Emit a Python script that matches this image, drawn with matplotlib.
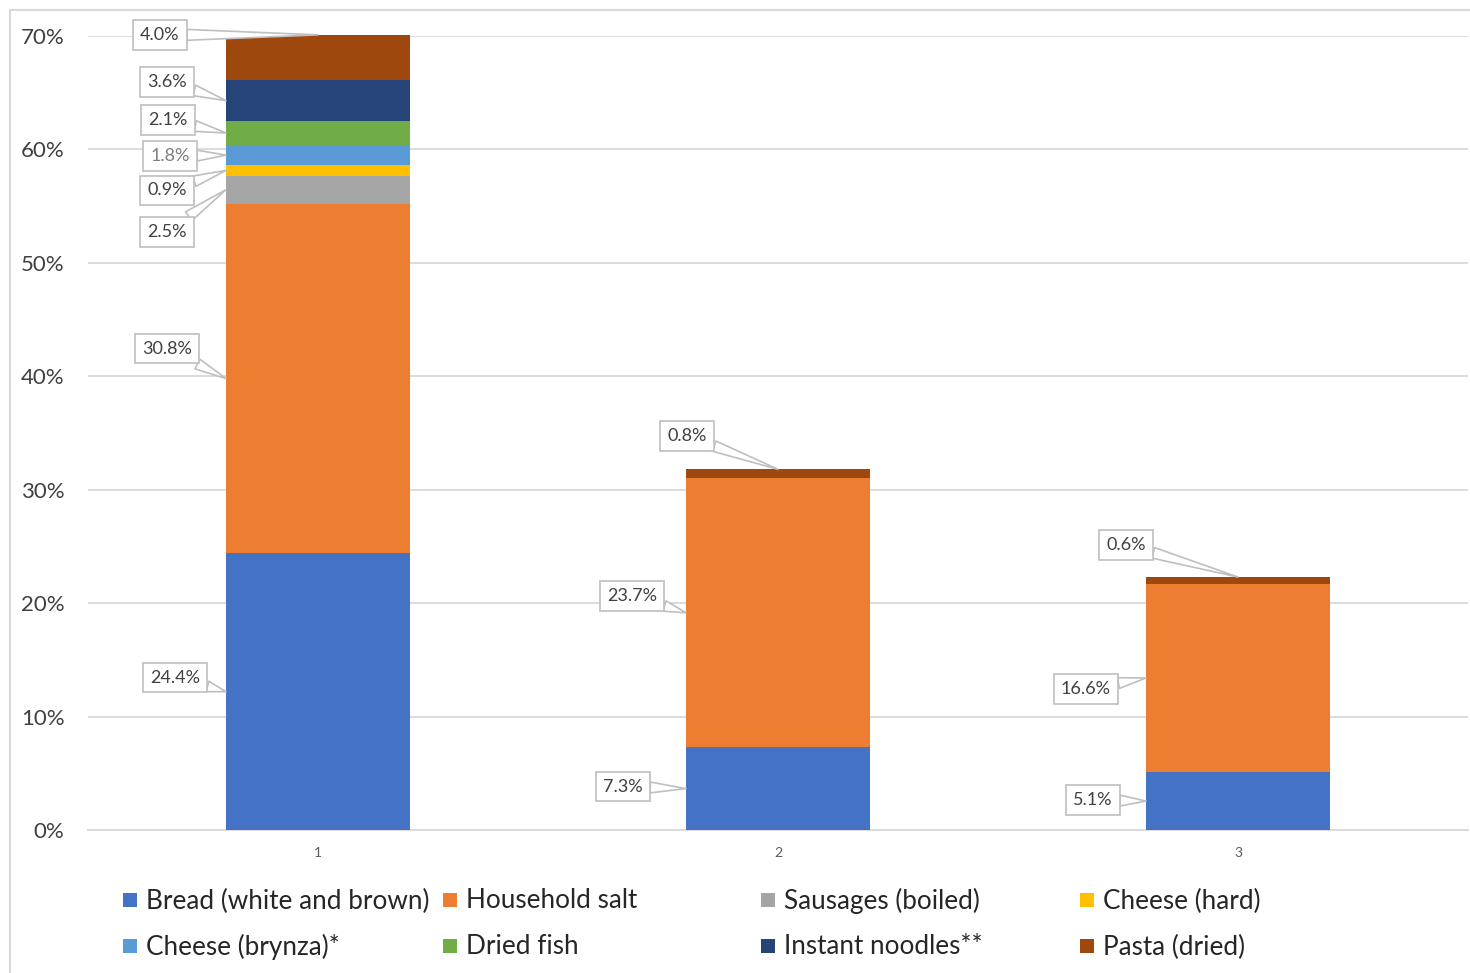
import matplotlib.pyplot as plt
from matplotlib.patches import Rectangle
from matplotlib.lines import Line2D
import numpy as np

plt.rcParams['font.family'] = ['Lato', 'DejaVu Sans']

groups = [1, 2, 3]
series = ["Bread (white and brown)", "Household salt", "Sausages (boiled)", "Cheese (hard)",
          "Cheese (brynza)*", "Dried fish", "Instant noodles**", "Pasta (dried)"]
colors = ["#4472C4", "#ED7D31", "#A5A5A5", "#FFC000",
          "#5B9BD5", "#70AD47", "#264478", "#9E480E"]

# shares in %, one list per series (groups 1..3)
bread    = [24.4, 7.3, 5.1]
salt     = [30.8, 23.7, 16.6]
sausages = [2.5, 0.0, 0.0]
cheese_h = [0.9, 0.0, 0.0]
brynza   = [1.8, 0.0, 0.0]
fish     = [2.1, 0.0, 0.0]
noodles  = [3.6, 0.0, 0.0]
pasta    = [4.0, 0.8, 0.6]
values = [bread, salt, sausages, cheese_h, brynza, fish, noodles, pasta]

# callout label placement: (series index, group, anchor, offset px)
callouts = [
    (7, 0, "top", (-158, 0)),
    (6, 0, "left", (-59, 19)),
    (5, 0, "left", (-58, 13)),
    (4, 0, "left", (-56, -1)),
    (3, 0, "left", (-59, -20)),
    (2, 0, "left", (-59, -42)),
    (1, 0, "left", (-59, 30)),
    (0, 0, "left", (-51, 14)),
    (0, 1, "left", (-63, 2)),
    (1, 1, "left", (-54, 17)),
    (7, 1, "top", (-91, 33)),
    (0, 2, "left", (-53, 1)),
    (1, 2, "left", (-60, -11)),
    (7, 2, "top", (-112, 32)),
]

W, H = 1470, 973
fig = plt.figure(figsize=(W / 100, H / 100), dpi=100)
ax = fig.add_axes([88 / W, 1 - 830 / H, 1380 / W, 794 / H])

width = 0.4
x = np.array(groups, dtype=float)
bottom = np.zeros(len(groups))
bottoms = []
for vals, c in zip(values, colors):
    v = np.array(vals) / 100
    bottoms.append(bottom.copy())
    ax.bar(x, v, width, bottom=bottom, color=c, linewidth=0, zorder=3, clip_on=False)
    bottom = bottom + v
totals = bottom

for si, gi, anchor, off in callouts:
    v = values[si][gi] / 100
    if anchor == "top":
        xy = (x[gi], totals[gi])
    else:
        xy = (x[gi] - width / 2, bottoms[si][gi] + v / 2)
    tcol = "#7F7F7F" if si == 4 else "#404040"
    ax.annotate(f"{values[si][gi]:.1f}%", xy=xy, xytext=off, textcoords="offset pixels",
                ha="center", va="center", fontsize=13, color=tcol, zorder=5,
                annotation_clip=False,
                bbox=dict(boxstyle="square,pad=0.38", fc="white", ec="#BFBFBF", lw=1.2),
                arrowprops=dict(arrowstyle="wedge,tail_width=0.6", fc="white", ec="#BFBFBF",
                                lw=1.2, shrinkA=0, shrinkB=0))

ax.set_xlim(0.5, 3.5)
ax.set_ylim(0, 0.7)
ax.set_yticks(np.arange(0, 0.71, 0.1))
ax.set_yticklabels([f"{int(round(t * 100))}%" for t in np.arange(0, 0.71, 0.1)])
ax.set_xticks(x)
ax.set_xticklabels([str(g) for g in groups])
ax.yaxis.grid(True, color="#D9D9D9", lw=1.3, zorder=0)
ax.set_axisbelow(True)
for s in ["left", "right", "top"]:
    ax.spines[s].set_visible(False)
ax.spines["bottom"].set_color("#D9D9D9")
ax.spines["bottom"].set_linewidth(1.3)
ax.tick_params(axis="y", length=0, pad=17, labelsize=16, labelcolor="#404040")
ax.tick_params(axis="x", length=0, pad=12, labelsize=10, labelcolor="#595959")

# legend, two rows of four
leg_x = [123, 443, 761, 1080]
leg_y = [900, 946]
for i, (name, c) in enumerate(zip(series, colors)):
    col, row = i % 4, i // 4
    px, py = leg_x[col], leg_y[row]
    fig.patches.append(Rectangle((px / W, 1 - (py + 7) / H), 14 / W, 14 / H,
                                 transform=fig.transFigure, fc=c, ec="none"))
    fig.text((px + 23) / W, 1 - (py + 1) / H, name, fontsize=18.8, color="#262626",
             ha="left", va="center")

# chart area border
bc = "#D9D9D9"
fig.add_artist(Line2D([10 / W, 10 / W], [0, 1 - 10 / H], color=bc, lw=1.5, transform=fig.transFigure))
fig.add_artist(Line2D([10 / W, 1], [1 - 10 / H, 1 - 10 / H], color=bc, lw=1.5, transform=fig.transFigure))

fig.savefig("out.png", dpi=100)
